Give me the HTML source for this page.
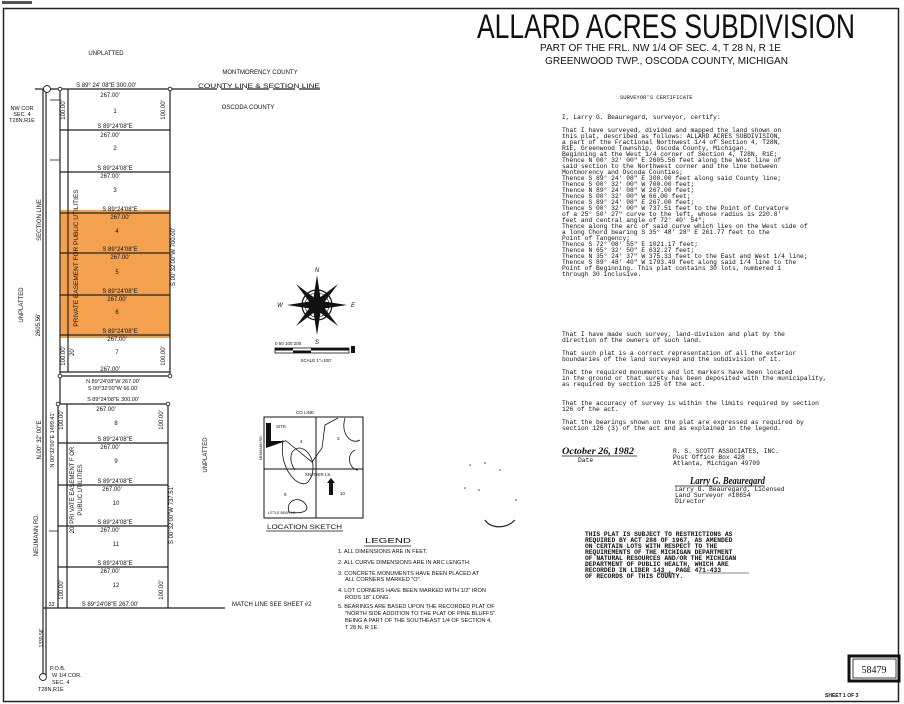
<!DOCTYPE html>
<html><head><meta charset="utf-8"><style>
html,body{margin:0;padding:0;background:#fff;}
svg{display:block;}
.s{font-family:"Liberation Sans",sans-serif;fill:#111;}
.m{font-family:"Liberation Mono",monospace;fill:#111;font-size:6.3px;}
</style></head><body>
<svg width="904" height="704" viewBox="0 0 904 704" xmlns="http://www.w3.org/2000/svg" xml:space="preserve">
<rect x="0" y="0" width="904" height="704" fill="#fff"/>
<rect x="3.5" y="8.5" width="895" height="693" fill="none" stroke="#222" stroke-width="1.5"/>
<rect x="2" y="1" width="30" height="3" fill="#555"/>

<text class="s" x="477" y="38" font-size="34" textLength="378" lengthAdjust="spacingAndGlyphs" style="font-weight:300">ALLARD ACRES SUBDIVISION</text>
<text class="s" x="540" y="51" font-size="10" textLength="241" lengthAdjust="spacingAndGlyphs">PART OF THE FRL. NW 1/4 OF SEC. 4, T 28 N, R 1E</text>
<text class="s" x="545" y="64" font-size="10" textLength="243" lengthAdjust="spacingAndGlyphs">GREENWOOD TWP., OSCODA COUNTY, MICHIGAN</text>

<rect x="60" y="210" width="110" height="128" fill="#f29030" opacity="0.85"/>

<g stroke="#222" fill="none" stroke-width="1.2">
<line x1="35" y1="89" x2="170" y2="89"/>
<line x1="60" y1="89" x2="60" y2="376"/>
<line x1="170" y1="89" x2="170" y2="376"/>
<line x1="68" y1="89" x2="68" y2="372"/>
<line x1="60" y1="130" x2="170" y2="130"/>
<line x1="60" y1="172" x2="170" y2="172"/>
<line x1="60" y1="213" x2="170" y2="213"/>
<line x1="60" y1="253" x2="170" y2="253"/>
<line x1="60" y1="295" x2="170" y2="295"/>
<line x1="60" y1="335" x2="170" y2="335"/>
<line x1="60" y1="372" x2="170" y2="372"/>
<line x1="60" y1="376" x2="170" y2="376"/>
<line x1="46" y1="89" x2="46" y2="677"/>
<line x1="43" y1="89" x2="43" y2="677"/>
<line x1="60" y1="376" x2="60" y2="404"/>
<line x1="58" y1="404" x2="168" y2="404"/>
<line x1="58" y1="404" x2="58" y2="608"/>
<line x1="168" y1="404" x2="168" y2="608"/>
<line x1="67" y1="404" x2="67" y2="608"/>
<line x1="58" y1="443" x2="168" y2="443"/>
<line x1="58" y1="485" x2="168" y2="485"/>
<line x1="58" y1="526" x2="168" y2="526"/>
<line x1="58" y1="567" x2="168" y2="567"/>
<line x1="43" y1="608" x2="225" y2="608"/>
<line x1="170" y1="89" x2="195" y2="89"/>
<line x1="195" y1="89" x2="320" y2="89" stroke-dasharray="22,4"/>
<line x1="50" y1="100" x2="60" y2="100" stroke-width="0.8"/>
<line x1="50" y1="160" x2="60" y2="160" stroke-width="0.8"/>
<line x1="49" y1="531" x2="58" y2="531" stroke-width="0.8"/>
</g>
<g fill="#fff" stroke="#222" stroke-width="0.9">
<circle cx="47" cy="89" r="3.5"/><circle cx="60" cy="89" r="1.8"/><circle cx="170" cy="89" r="1.8"/>
<circle cx="60" cy="376" r="1.8"/><circle cx="170" cy="376" r="1.8"/>
<circle cx="58" cy="404" r="1.8"/><circle cx="168" cy="404" r="1.8"/>
<circle cx="43" cy="677" r="3.5"/>
</g>

<g class="s" font-size="6" text-anchor="middle">
<text x="106" y="55">UNPLATTED</text>
<text x="260" y="74">MONTMORENCY COUNTY</text>
<text x="259" y="88" textLength="122" lengthAdjust="spacingAndGlyphs">COUNTY LINE &amp; SECTION LINE</text>
<text x="248" y="109">OSCODA COUNTY</text>
<text x="106" y="87">S 89° 24' 08"E  300.00'</text>
<text x="22" y="110" font-size="5.5">NW COR</text>
<text x="22" y="116" font-size="5.5">SEC. 4</text>
<text x="22" y="122" font-size="5.5">T28N,R1E</text>
<text x="110" y="97">267.00'</text><text x="115" y="113">1</text>
<text x="115" y="128">S 89°24'08"E</text><text x="110" y="137">267.00'</text><text x="115" y="150">2</text>
<text x="115" y="170">S 89°24'08"E</text><text x="110" y="178">267.00'</text><text x="115" y="192">3</text>
<text x="120" y="211">S 89°24'08"E</text><text x="120" y="219">267.00'</text><text x="117" y="233">4</text>
<text x="120" y="251">S 89°24'08"E</text><text x="120" y="259">267.00'</text><text x="117" y="274">5</text>
<text x="120" y="293">S 89°24'08"E</text><text x="117" y="301">267.00'</text><text x="117" y="314">6</text>
<text x="120" y="333">S 89°24'08"E</text><text x="117" y="341">267.00'</text><text x="117" y="354">7</text>
<text x="110" y="371">267.00'</text>
<text x="113" y="383" font-size="5.5">N 89°24'08"W 267.00'</text>
<text x="113" y="390" font-size="5.5">S 00°32'00"W 66.00'</text>
<text x="113" y="401" font-size="5.5">S 89°24'08"E  300.00'</text>
<text x="106" y="411">267.00'</text><text x="116" y="425">8</text>
<text x="115" y="441">S 89°24'08"E</text><text x="110" y="449">267.00'</text><text x="116" y="463">9</text>
<text x="115" y="483">S 89°24'08"E</text><text x="112" y="491">267.00'</text><text x="116" y="505">10</text>
<text x="115" y="524">S 89°24'08"E</text><text x="110" y="532">267.00'</text><text x="116" y="546">11</text>
<text x="115" y="565">S 89°24'08"E</text><text x="110" y="573">267.00'</text><text x="116" y="587">12</text>
<text x="110" y="606">S 89°24'08"E  267.00'</text>
<text x="52" y="606" font-size="5">33'</text>
<text x="232" y="606" text-anchor="start">MATCH LINE    SEE SHEET #2</text>
<text x="50" y="670" text-anchor="start" font-size="5.5">P.O.B.</text>
<text x="52" y="677" text-anchor="start" font-size="5.5">W 1/4 COR.</text>
<text x="52" y="684" text-anchor="start" font-size="5.5">SEC. 4</text>
<text x="38" y="691" text-anchor="start" font-size="5.5">T28N,R1E</text>
</g>
<g class="s" font-size="6" text-anchor="middle">
<text transform="translate(65,110) rotate(-90)">100.00'</text>
<text transform="translate(165,110) rotate(-90)">100.00'</text>
<text transform="translate(65,356) rotate(-90)">100.00'</text>
<text transform="translate(165,356) rotate(-90)">100.00'</text>
<text transform="translate(74,352) rotate(-90)">20'</text>
<text transform="translate(78,258) rotate(-90)" font-size="6.5">PRIVATE  EASEMENT  FOR  PUBLIC  UTILITIES</text>
<text transform="translate(175,257) rotate(-90)">S 00°32'00"W  700.00'</text>
<text transform="translate(41,220) rotate(-90)">SECTION LINE</text>
<text transform="translate(23,305) rotate(-90)">UNPLATTED</text>
<text transform="translate(40,325) rotate(-90)">2605.56'</text>
<text transform="translate(41,440) rotate(-90)">N.00° 32' 00"E</text>
<text transform="translate(54,440) rotate(-90)" font-size="5.5">N 00°32'00"E  1499.41'</text>
<text transform="translate(38,535) rotate(-90)">NEUMANN RD.</text>
<text transform="translate(63,420) rotate(-90)">100.00'</text>
<text transform="translate(163,420) rotate(-90)">100.00'</text>
<text transform="translate(63,590) rotate(-90)">100.00'</text>
<text transform="translate(163,590) rotate(-90)">100.00'</text>
<text transform="translate(74,490) rotate(-90)">20' PRI VATE EASEMENT F OR</text>
<text transform="translate(82,490) rotate(-90)">PUBLIC UTILITIES</text>
<text transform="translate(173,515) rotate(-90)">S 00°32'00"W  737.51'</text>
<text transform="translate(207,455) rotate(-90)">UNPLATTED</text>
<text transform="translate(43,638) rotate(-90)" font-size="5">1339.56'</text>
</g>

<g transform="translate(317,305)">
<circle r="15" fill="none" stroke="#111" stroke-width="1.2"/>
<circle r="12" fill="none" stroke="#111" stroke-width="0.6"/>
<g fill="#111">
<polygon points="0,-30 4,-4 0,0 -4,-4"/><polygon points="0,30 4,4 0,0 -4,4"/>
<polygon points="-30,0 -4,-4 0,0 -4,4"/><polygon points="30,0 4,-4 0,0 4,4"/>
<polygon points="-21,-21 -1,-6 0,0 -6,-1"/><polygon points="21,-21 1,-6 0,0 6,-1"/>
<polygon points="-21,21 -1,6 0,0 -6,1"/><polygon points="21,21 1,6 0,0 6,1"/>
</g>
<text class="s" x="0" y="-33" font-size="6" text-anchor="middle" font-style="italic">N</text>
<text class="s" x="0" y="39" font-size="6" text-anchor="middle" font-style="italic">S</text>
<text class="s" x="-37" y="2" font-size="6" text-anchor="middle" font-style="italic">W</text>
<text class="s" x="36" y="2" font-size="6" text-anchor="middle" font-style="italic">E</text>
</g>
<g>
<rect x="275" y="348" width="74" height="5" fill="none" stroke="#111" stroke-width="0.8"/>
<rect x="275" y="348" width="18" height="2.5" fill="#111"/><rect x="293" y="350.5" width="18" height="2.5" fill="#111"/>
<rect x="311" y="348" width="38" height="2.5" fill="#111"/>
<rect x="351" y="346" width="4" height="7" fill="#111"/>
<text class="s" x="275" y="345" font-size="4.5">0    50    100              200</text>
<text class="s" x="316" y="362" font-size="4.5" text-anchor="middle">SCALE 1"=100'</text>
</g>

<g stroke="#111" fill="none" stroke-width="1">
<rect x="264" y="417" width="99" height="101"/>
<line x1="316" y1="417" x2="316" y2="518"/>
<line x1="264" y1="469" x2="363" y2="469"/>
<path d="M283 440 C278 470 300 490 308 482 C318 470 312 450 300 448 C290 448 288 460 295 470" stroke-width="0.8"/>
<path d="M285 440 L312 462 L322 448 L325 425 L338 418" stroke-width="0.8"/>
<path d="M345 418 C340 435 352 445 360 440" stroke-width="0.8"/>
<path d="M355 450 C345 455 350 470 358 470" stroke-width="0.8"/>
<path d="M289 512 C285 500 300 495 306 505 C310 512 300 514 289 512" stroke-width="0.8"/>
</g>
<polygon points="266,423 271,423 271,441 286,441 266,448" fill="#111"/>
<polygon points="327,483 331,478 335,483 333,483 333,495 329,495 329,483" fill="#111"/>
<g class="s" font-size="4.5">
<text x="296" y="414">CO LINE</text>
<text x="276" y="428">SITE</text>
<text x="300" y="443">4</text><text x="337" y="440">3</text>
<text x="305" y="476">SNYDER LK.</text>
<text x="284" y="496">9</text><text x="340" y="495">10</text>
<text x="268" y="514" font-size="3.5">LITTLE BEAR LK.</text>
<text transform="translate(262,460) rotate(-90)" font-size="3.5">NEUMANN RD.</text>
<text x="267" y="529" font-size="6" textLength="75" lengthAdjust="spacingAndGlyphs">LOCATION  SKETCH</text>
</g>
<line x1="266" y1="531" x2="343" y2="531" stroke="#111" stroke-width="0.8"/>

<g class="s" font-size="5.6">
<text x="365" y="543" font-size="7" textLength="46" lengthAdjust="spacingAndGlyphs">LEGEND</text>
<text x="338" y="553">1. ALL DIMENSIONS ARE IN FEET.</text>
<text x="338" y="564">2. ALL CURVE DIMENSIONS ARE IN ARC LENGTH.</text>
<text x="338" y="575">3. CONCRETE MONUMENTS HAVE BEEN PLACED AT</text>
<text x="345" y="581">ALL CORNERS MARKED "O".</text>
<text x="338" y="592">4. LOT CORNERS HAVE BEEN MARKED WITH 1/2" IRON</text>
<text x="345" y="599">RODS 18" LONG.</text>
<text x="338" y="608">5. BEARINGS ARE BASED UPON THE RECORDED PLAT OF</text>
<text x="345" y="615">"NORTH SIDE ADDITION TO THE PLAT OF PINE BLUFFS".</text>
<text x="345" y="622">BEING A PART OF THE SOUTHEAST 1/4 OF SECTION 4,</text>
<text x="345" y="629">T 28 N, R 1E.</text>
</g>
<line x1="364" y1="546" x2="411" y2="546" stroke="#111" stroke-width="0.8"/>

<path d="M485 520 C490 528 505 530 515 520" fill="none" stroke="#222" stroke-width="1.2"/>
<g fill="#444"><circle cx="470" cy="465" r="0.8"/><circle cx="485" cy="463" r="0.8"/><circle cx="500" cy="470" r="0.8"/><circle cx="465" cy="488" r="0.8"/><circle cx="479" cy="490" r="0.8"/><circle cx="516" cy="500" r="0.8"/></g>

<g class="m">
<text x="620" y="99" font-size="5.5">SURVEYOR'S CERTIFICATE</text>
<text x="562" y="119">I, Larry G. Beauregard, surveyor, certify:</text>
<text x="562" y="132">That I have surveyed, divided and mapped the land shown on</text>
<text x="562" y="138">this plat, described as follows:  ALLARD ACRES SUBDIVISION,</text>
<text x="562" y="144">a part of the Fractional Northwest 1/4 of Section 4, T28N,</text>
<text x="562" y="150">R1E, Greenwood Township, Oscoda County, Michigan.</text>
<text x="562" y="156">Beginning at the West 1/4 corner of Section 4, T28N, R1E;</text>
<text x="562" y="162">Thence N 00° 32' 00" E 2605.56 feet along the West line of</text>
<text x="562" y="168">   said section to the Northwest corner and the line between</text>
<text x="562" y="174">   Montmorency and Oscoda Counties;</text>
<text x="562" y="180">Thence S 89° 24' 08" E 300.00 feet along said County line;</text>
<text x="562" y="186">Thence S 00° 32' 00" W 700.00 feet;</text>
<text x="562" y="192">Thence N 89° 24' 08" W 267.00 feet;</text>
<text x="562" y="198">Thence S 00° 32' 00" W  66.00 feet;</text>
<text x="562" y="204">Thence S 89° 24' 08" E 267.00 feet;</text>
<text x="562" y="210">Thence S 00° 32' 00" W 737.51 feet to the Point of Curvature</text>
<text x="562" y="216">   of a 25° 50' 27" curve to the left, whose radius is 220.8'</text>
<text x="562" y="222">   feet and central angle of 72° 40' 54";</text>
<text x="562" y="228">Thence along the arc of said curve which lies on the West side of</text>
<text x="562" y="234">   a long Chord bearing S 35° 48' 28" E 261.77 feet to the</text>
<text x="562" y="240">   Point of Tangency;</text>
<text x="562" y="246">Thence S 72° 08' 55" E 1021.17 feet;</text>
<text x="562" y="252">Thence N 65° 32' 50" E 632.27 feet;</text>
<text x="562" y="258">Thence N 35° 24' 37" W 375.33 feet to the East and West 1/4 line;</text>
<text x="562" y="264">Thence S 89° 48' 40" W 1793.49 feet along said 1/4 line to the</text>
<text x="562" y="270">   Point of Beginning.  This plat contains 30 lots, numbered 1</text>
<text x="562" y="276">   through 30 inclusive.</text>
<text x="562" y="336">That I have made such survey, land-division and plat by the</text>
<text x="562" y="342">direction of the owners of such land.</text>
<text x="562" y="355">That such plat is a correct representation of all the exterior</text>
<text x="562" y="361">boundaries of the land surveyed and the subdivision of it.</text>
<text x="562" y="374">That the required monuments and lot markers have been located</text>
<text x="562" y="380">in the ground or that surety has been deposited with the municipality,</text>
<text x="562" y="386">as required by section 125 of the act.</text>
<text x="562" y="405">That the accuracy of survey is within the limits required by section</text>
<text x="562" y="411">126 of the act.</text>
<text x="562" y="424">That the bearings shown on the plat are expressed as required by</text>
<text x="562" y="430">section 126 (3) of the act and as explained in the legend.</text>
<text x="578" y="462">Date</text>
<text x="673" y="453">R. S. SCOTT ASSOCIATES, INC.</text>
<text x="673" y="459">Post Office Box 428</text>
<text x="673" y="465">Atlanta, Michigan  49709</text>
<text x="675" y="491">Larry G. Beauregard, Licensed</text>
<text x="675" y="497">Land Surveyor #18654</text>
<text x="675" y="503">Director</text>
</g>
<text x="562" y="454" font-family="Liberation Serif,serif" font-style="italic" font-weight="bold" font-size="9" fill="#111" textLength="72" lengthAdjust="spacingAndGlyphs">October 26, 1982</text>
<line x1="562" y1="456" x2="637" y2="456" stroke="#111" stroke-width="0.8"/>
<text x="690" y="484" font-family="Liberation Serif,serif" font-style="italic" font-weight="bold" font-size="10" fill="#111" textLength="75" lengthAdjust="spacingAndGlyphs">Larry G. Beauregard</text>
<line x1="675" y1="486" x2="765" y2="486" stroke="#111" stroke-width="0.8"/>

<g class="m" font-size="5.9" font-weight="bold" fill="#111">
<text x="585" y="536">THIS PLAT IS SUBJECT TO RESTRICTIONS AS</text>
<text x="585" y="542">REQUIRED BY ACT 288 OF 1967, AS AMENDED</text>
<text x="585" y="548">ON CERTAIN LOTS WITH RESPECT TO THE</text>
<text x="585" y="554">REQUIREMENTS OF THE MICHIGAN DEPARTMENT</text>
<text x="585" y="560">OF NATURAL RESOURCES AND/OR THE MICHIGAN</text>
<text x="585" y="566">DEPARTMENT OF PUBLIC HEALTH, WHICH ARE</text>
<text x="585" y="572">RECORDED IN LIBER 143 , PAGE 471-433</text>
<text x="585" y="578">OF RECORDS OF THIS COUNTY.</text>
</g>
<line x1="657" y1="573" x2="673" y2="573" stroke="#111" stroke-width="0.6"/>
<line x1="699" y1="573" x2="749" y2="573" stroke="#111" stroke-width="0.6"/>

<rect x="849" y="656" width="50" height="25" fill="none" stroke="#111" stroke-width="3"/>
<rect x="853" y="659" width="43" height="19" fill="none" stroke="#111" stroke-width="0.8"/>
<text x="874" y="673" font-family="Liberation Serif,serif" font-size="10" text-anchor="middle" fill="#111">58479</text>
<text class="s" x="825" y="697" font-size="5" font-weight="bold">SHEET  1  OF  3</text>
</svg>
</body></html>
